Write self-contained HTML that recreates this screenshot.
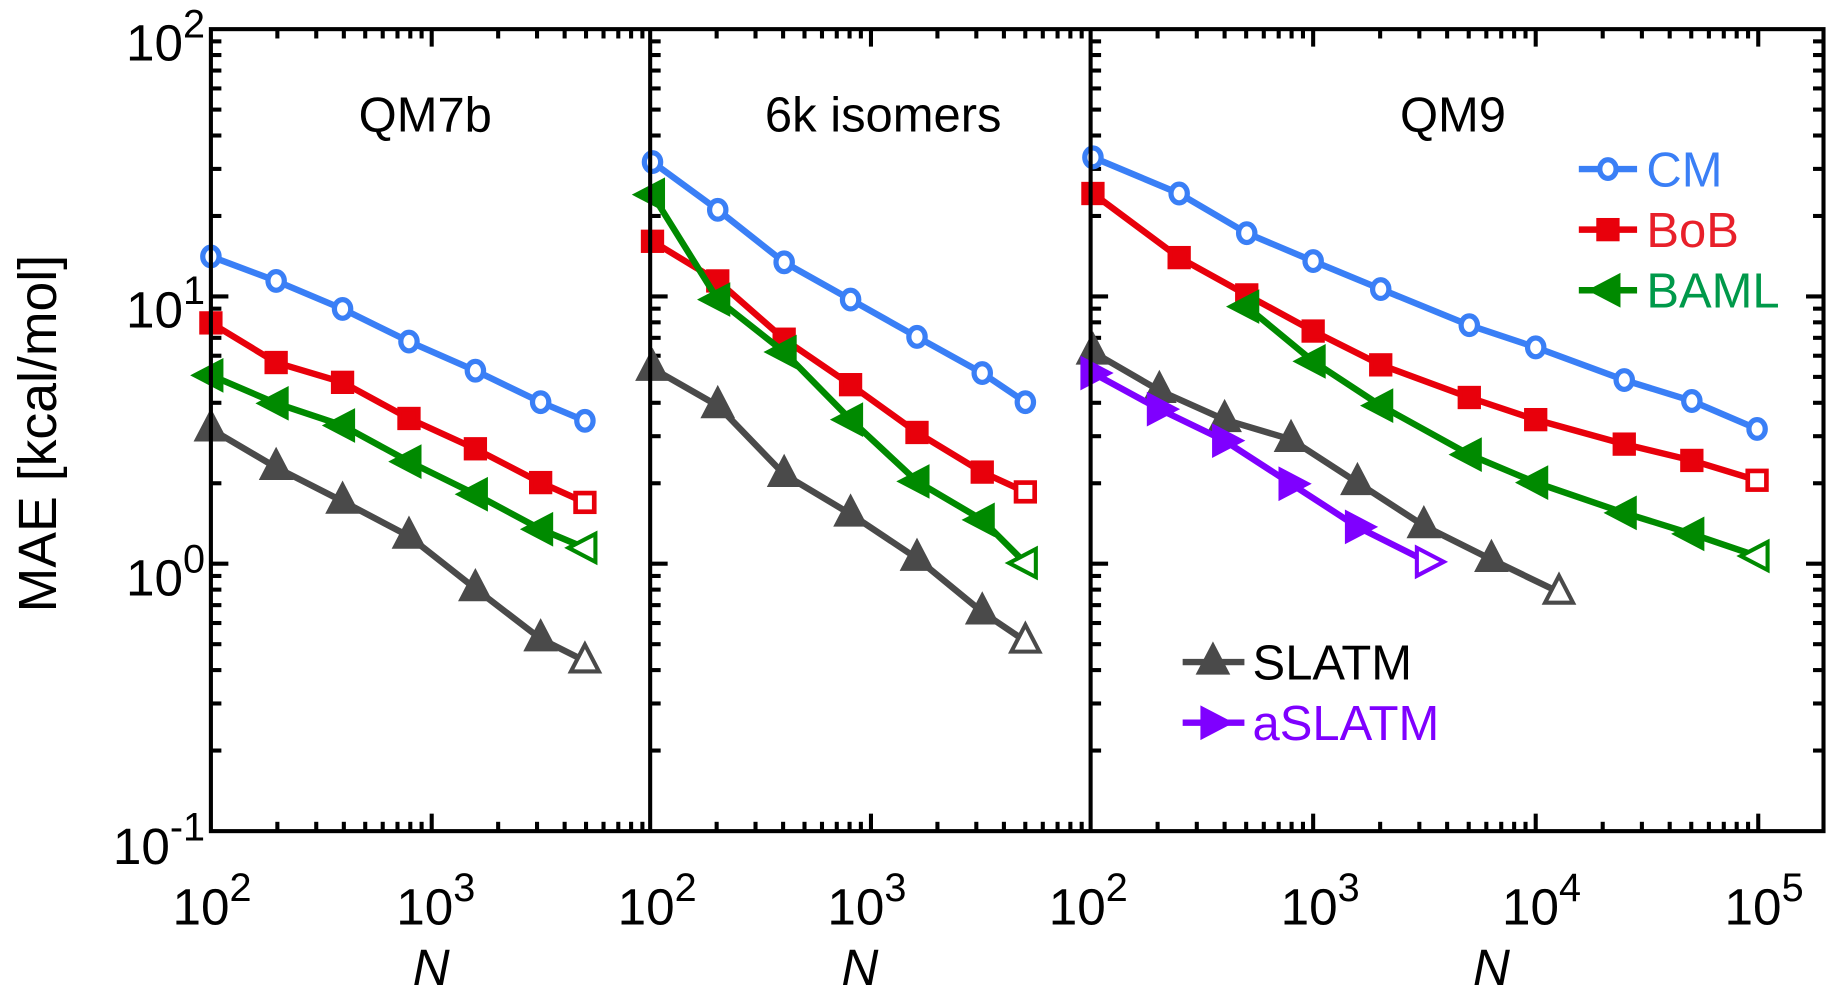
<!DOCTYPE html>
<html><head><meta charset="utf-8"><style>
html,body{margin:0;padding:0;background:#fff;overflow:hidden}
svg{display:block}
text{font-family:"Liberation Sans",Arial,sans-serif}
</style></head><body>
<svg id="s" width="1827" height="985" viewBox="0 0 1568 845" preserveAspectRatio="none" xmlns="http://www.w3.org/2000/svg">
<g id="ticks" stroke="#000" stroke-width="3.5"></g>
<g id="series"></g>
<g fill="#000">
<text x="365" y="113" text-anchor="middle" font-size="42">QM7b</text>
<text x="758" y="113" text-anchor="middle" font-size="42">6k isomers</text>
<text x="1247" y="113" text-anchor="middle" font-size="42">QM9</text>
<text x="48" y="372" text-anchor="middle" font-size="46" transform="rotate(-90 48 372)">MAE [kcal/mol]</text>
<text x="370" y="845" text-anchor="middle" font-style="italic" font-size="44">N</text>
<text x="738" y="845" text-anchor="middle" font-style="italic" font-size="44">N</text>
<text x="1280" y="845" text-anchor="middle" font-style="italic" font-size="44">N</text>
</g>
<g fill="#000" font-size="44" id="labels"></g>
<g font-size="42">
<text x="1413" y="160" fill="#3a7ff6">CM</text>
<text x="1413" y="212" fill="#e8202a">BoB</text>
<text x="1413" y="264" fill="#00994a">BAML</text>
<text x="1075" y="583" fill="#000">SLATM</text>
<text x="1075" y="635" fill="#7f00ff">aSLATM</text>
</g>
<rect x="181" y="25" width="1384" height="688" fill="none" stroke="#000" stroke-width="3.5"/>
<line x1="558" y1="25" x2="558" y2="713" stroke="#000" stroke-width="3.5"/>
<line x1="936" y1="25" x2="936" y2="713" stroke="#000" stroke-width="3.5"/>
</svg>
<script>
var NS="http://www.w3.org/2000/svg";
function el(p,t,a){var e=document.createElementNS(NS,t);for(var k in a)e.setAttribute(k,a[k]);p.appendChild(e);return e;}
var T=document.getElementById('ticks'),L=document.getElementById('labels'),S=document.getElementById('series');
var yd=229.3,y2=25;
function yv(v){return y2+(2-Math.log10(v))*yd;}
var lefts=[181,558,936];
for(var d=-1;d<2;d++)for(var m=1;m<10;m++){var v=m*Math.pow(10,d);if(d==-1&&m==1)continue;var y=yv(v);var len=(m==1)?15:9;
 lefts.forEach(function(x){el(T,'line',{x1:x,y1:y,x2:x+len,y2:y});});
 el(T,'line',{x1:1565,y1:y,x2:1565-len,y2:y});}
var panels=[[181,189.5,558],[558,189.5,936],[936,191,1565]];
panels.forEach(function(p){for(var d=2;d<6;d++)for(var m=1;m<10;m++){var x=p[0]+(Math.log10(m*Math.pow(10,d))-2)*p[1];if(x<=p[0]+1||x>=p[2]-1)continue;var len=(m==1)?15:8;
 el(T,'line',{x1:x,y1:713,x2:x,y2:713-len});el(T,'line',{x1:x,y1:25,x2:x,y2:25+len});}});
function lab(x,y,b,e,anchor){var t=el(L,'text',{x:x,y:y,'text-anchor':anchor||'middle'});t.textContent=b;var s=el(t,'tspan',{dy:-20,'font-size':34});s.textContent=e;}
lab(176,52,'10','2','end');lab(176,281,'10','1','end');lab(176,511,'10','0','end');lab(176,741,'10','-1','end');
lab(182,793,'10','2');lab(374,793,'10','3');lab(564,793,'10','2');lab(744,793,'10','3');
lab(934,793,'10','2');lab(1133,793,'10','3');lab(1323,793,'10','4');lab(1514,793,'10','5');
var C={cm:'#3a7ff6',bob:'#e8000b',baml:'#008a00',sl:'#4a4a4a',as:'#7f00ff'};
function series(xs,ys,col,mk){var pts=xs.map(function(x,i){return x+','+ys[i];}).join(' ');
 el(S,'polyline',{points:pts,fill:'none',stroke:col,'stroke-width':5.5,'stroke-linejoin':'round'});
 xs.forEach(function(x,i){var y=ys[i],last=i==xs.length-1;marker(x,y,col,mk,last);});}
function marker(x,y,col,mk,last){
 if(mk=='o'){el(S,'ellipse',{cx:x,cy:y,rx:7,ry:8,fill:'#fff',stroke:col,'stroke-width':4.5});}
 else if(mk=='s'){el(S,'rect',{x:x-8,y:y-8,width:16,height:16,fill:last?'#fff':col,stroke:col,'stroke-width':4});}
 else if(mk=='^'){el(S,'polygon',{points:(x)+','+(y-14)+' '+(x-12)+','+(y+9)+' '+(x+12)+','+(y+9),fill:last?'#fff':col,stroke:col,'stroke-width':3.5});}
 else if(mk=='<'){el(S,'polygon',{points:(x-14)+','+y+' '+(x+9)+','+(y-12)+' '+(x+9)+','+(y+12),fill:last?'#fff':col,stroke:col,'stroke-width':3.5});}
 else if(mk=='>'){el(S,'polygon',{points:(x+14)+','+y+' '+(x-9)+','+(y-12)+' '+(x-9)+','+(y+12),fill:last?'#fff':col,stroke:col,'stroke-width':3.5});}}
var x1=[181,237,294,351,408,464,502];
series(x1,[220,241,265,293,318,345,361],C.cm,'o');
series(x1,[277,311,328,359,385,414,431],C.bob,'s');
series(x1,[322,346,365,396,424,454,470],C.baml,'<');
series(x1,[368,401,430,460,505,548,567],C.sl,'^');
var x2=[560,616,673,730,787,843,880];
series(x2,[139,180,225,257,289,320,345],C.cm,'o');
series(x2,[207,241,291,330,371,405,422],C.bob,'s');
series(x2,[167,257,302,360,413,446,483],C.baml,'<');
series(x2,[316,348,407,441,479,525,550],C.sl,'^');
var x3=[938,1012,1070,1127,1185,1261,1318,1394,1452,1508];
series(x3,[135,166,200,224,248,279,298,326,344,368],C.cm,'o');
series(x3,[166,221,253,284,313,341,360,381,395,412],C.bob,'s');
series([1070,1127,1185,1261,1318,1394,1452,1508],[263,310,348,390,414,440,458,477],C.baml,'<');
series([938,995,1051,1108,1165,1222,1280,1338],[302,335,360,377,414,451,480,508],C.sl,'^');
series([938,995,1051,1108,1165,1225],[320,351,378,415,452,482],C.as,'>');
[[145,C.cm,'o'],[197,C.bob,'s'],[249,C.baml,'<']].forEach(function(a){el(S,'line',{x1:1355,y1:a[0],x2:1405,y2:a[0],stroke:a[1],'stroke-width':5.5});marker(1380,a[0],a[1],a[2],false);});
[[568,C.sl,'^'],[620,C.as,'>']].forEach(function(a){el(S,'line',{x1:1015,y1:a[0],x2:1068,y2:a[0],stroke:a[1],'stroke-width':5.5});marker(1041,a[0],a[1],a[2],false);});
</script>
</body></html>
